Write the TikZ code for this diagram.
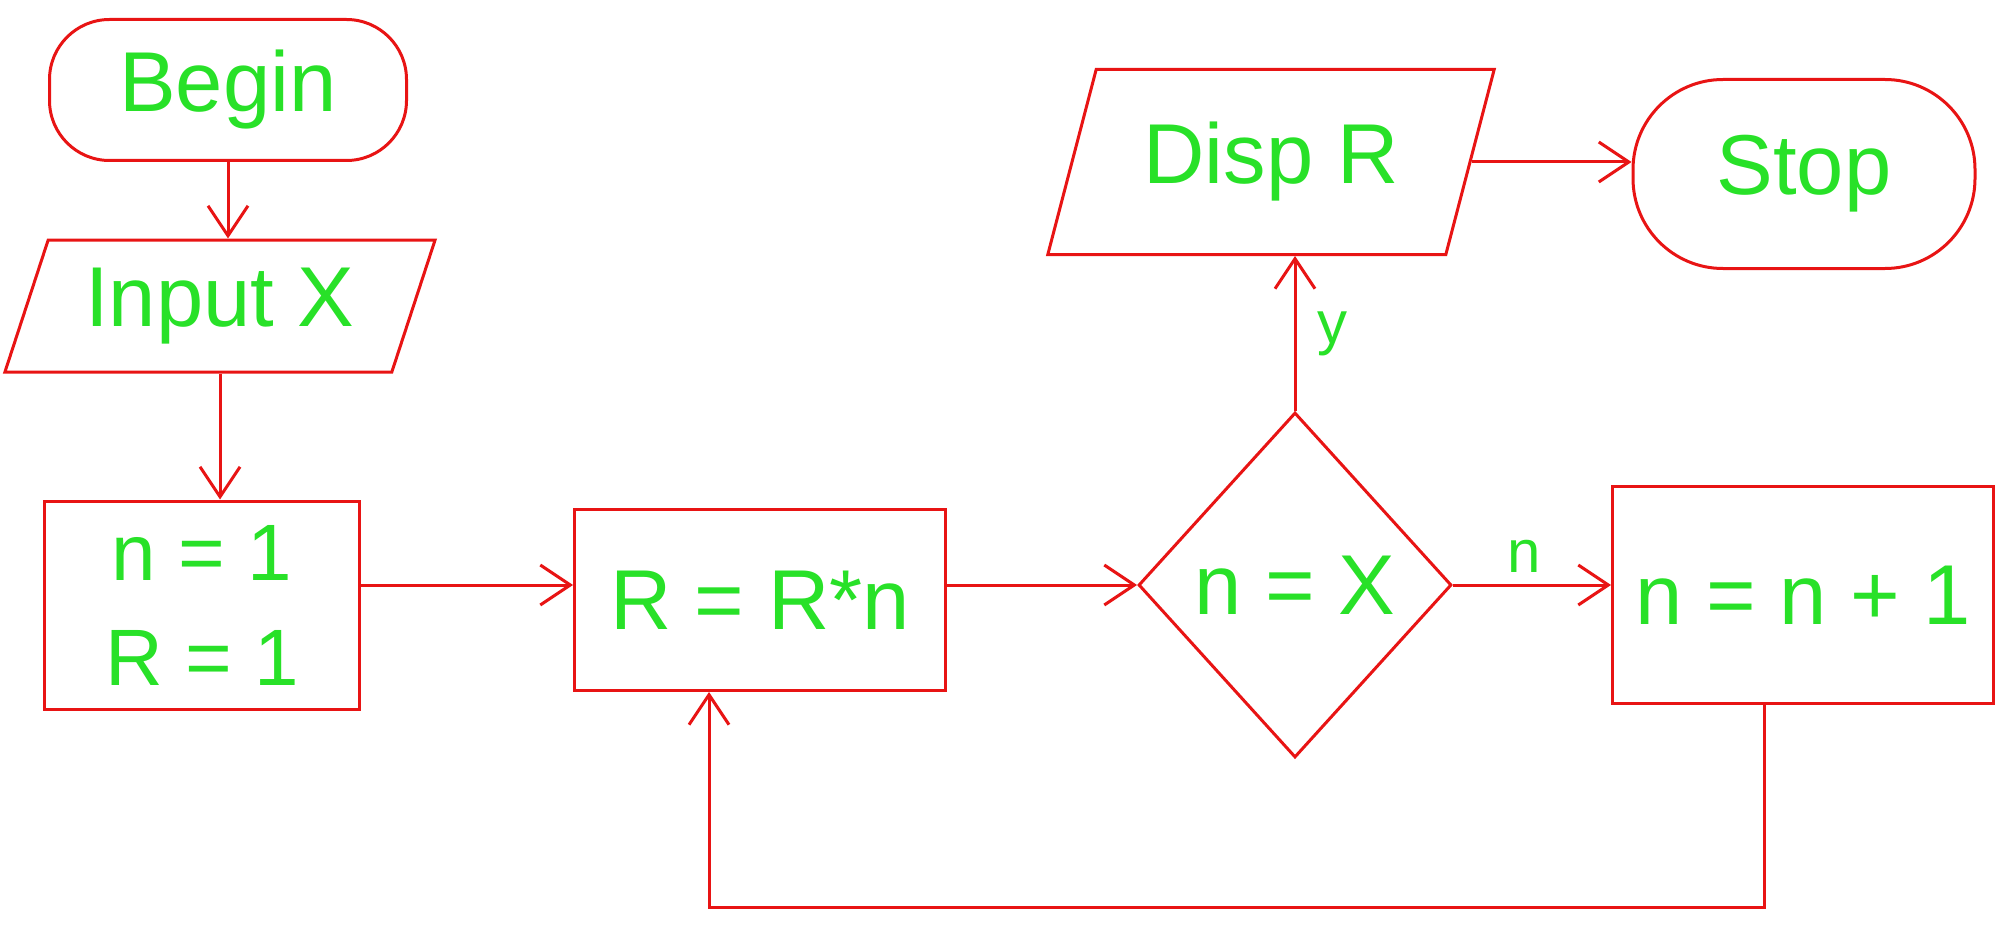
\documentclass[tikz,border=0pt]{standalone}
\usepackage{fontspec}
\setmainfont{Liberation Sans}
\usetikzlibrary{shapes.geometric,arrows.meta}
\definecolor{lnred}{RGB}{232,20,20}
\definecolor{txgreen}{RGB}{40,225,40}
\begin{document}
\begin{tikzpicture}[x=1pt,y=-1pt,
 every node/.style={text=txgreen, font=\fontsize{85}{100}\selectfont},
 box/.style={draw=lnred, line width=3pt, rectangle, inner sep=0pt},
 term/.style={box, rounded corners=60pt},
 io/.style={box, trapezium, trapezium stretches=true, trapezium left angle=66, trapezium right angle=114},
 dec/.style={box, diamond},
 flow/.style={draw=lnred, line width=3pt, -{Straight Barb[length=30pt,width=40pt,line width=3pt]}},
 lbl/.style={font=\fontsize{60}{70}\selectfont}
]
\useasboundingbox (0,0) rectangle (2004,928);

\node[term, minimum width=357pt, minimum height=141pt] (begin) at (228,90) {Begin};
\node[io, minimum width=431pt, minimum height=132pt] (input) at (220,306) {Input X};
\node[box, minimum width=315pt, minimum height=208pt, align=center, font=\fontsize{80}{105}\selectfont] (init) at (202,605) {n = 1\\R = 1};
\node[box, minimum width=371pt, minimum height=181pt] (mult) at (760,600) {R = R*n};
\node[dec, minimum width=313pt, minimum height=345pt] (test) at (1295,585) {n = X};
\node[io, minimum width=447pt, minimum height=185pt] (disp) at (1271,162) {Disp R};
\node[term, minimum width=342pt, minimum height=189pt, rounded corners=90pt] (stop) at (1804,174) {Stop};
\node[box, minimum width=381pt, minimum height=217pt] (inc) at (1803,595) {n = n + 1};

\coordinate (lpa) at (1764,907);
\coordinate (lpb) at (709,907);

\draw[flow] (begin.south) -- (begin.south |- input.north);
\draw[flow] (input.south) -- (input.south |- init.north);
\draw[flow] (init.east |- test.west) -- (mult.west |- test.west);
\draw[flow] (mult.east |- test.west) -- (test.west);
\draw[flow] (test.north) -- (test.north |- disp.south) node[lbl, pos=0.5, right=18pt] (ly) {y};
\draw[flow] (disp.east) -- (disp.east -| stop.west);
\draw[flow] (test.east) -- (inc.west |- test.east) node[lbl, pos=0.45, above=8pt] (ln) {n};
\draw[flow] (inc.south -| lpa) -- (lpa) -- (lpb) -- (lpb |- mult.south);
\end{tikzpicture}
\end{document}
